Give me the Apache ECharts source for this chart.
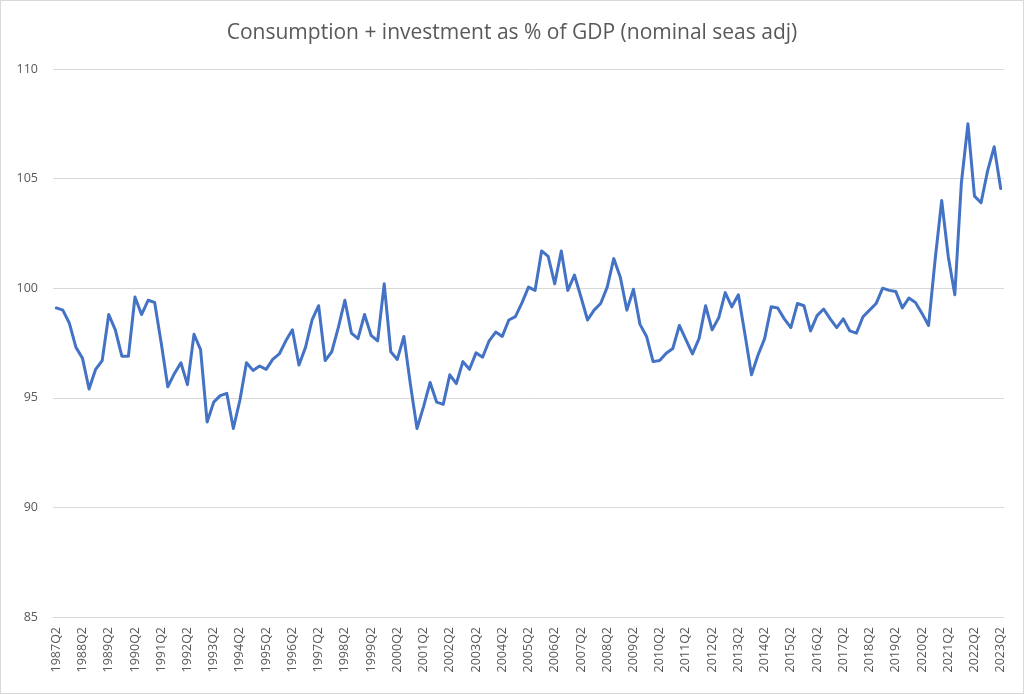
<!DOCTYPE html>
<html>
<head>
<meta charset="utf-8">
<script src="https://cdn.jsdelivr.net/npm/echarts@6/dist/echarts.min.js"></script>
<style>
html,body{margin:0;padding:0;background:#fff;}
#chart{width:1024px;height:694px;box-sizing:border-box;border:1px solid #d9d9d9;}
</style>
</head>
<body>
<div id="chart"></div>
<script>
// Quarterly categories 1987Q2 .. 2023Q2
const startYear = 1987, startQuarter = 2, endYear = 2023, endQuarter = 2;
const categories = [];
for (let y = startYear; y <= endYear; y++) {
  for (let q = 1; q <= 4; q++) {
    if (y === startYear && q < startQuarter) continue;
    if (y === endYear && q > endQuarter) continue;
    categories.push(y + 'Q' + q);
  }
}

const values = [
  99.1, 99.0, 98.4, 97.3, 96.8, 95.4, 96.3, 96.7, 98.8, 98.1,
  96.9, 96.9, 99.6, 98.8, 99.45, 99.35, 97.5, 95.5, 96.1, 96.6,
  95.6, 97.9, 97.2, 93.9, 94.8, 95.1, 95.2, 93.6, 94.9, 96.6,
  96.25, 96.45, 96.3, 96.75, 97.0, 97.6, 98.1, 96.5, 97.3, 98.55,
  99.2, 96.7, 97.1, 98.2, 99.45, 97.95, 97.7, 98.8, 97.85, 97.6,
  100.2, 97.1, 96.75, 97.8, 95.6, 93.6, 94.6, 95.7, 94.8, 94.7,
  96.05, 95.65, 96.65, 96.3, 97.05, 96.85, 97.6, 98.0, 97.8, 98.55,
  98.7, 99.33, 100.05, 99.9, 101.7, 101.45, 100.2, 101.7, 99.9, 100.6,
  99.6, 98.55, 99.0, 99.3, 100.05, 101.35, 100.5, 99.0, 99.95, 98.35,
  97.8, 96.65, 96.7, 97.03, 97.25, 98.3, 97.65, 97.0, 97.7, 99.2,
  98.1, 98.65, 99.8, 99.15, 99.7, 97.9, 96.05, 96.95, 97.7, 99.15,
  99.1, 98.6, 98.2, 99.3, 99.2, 98.05, 98.75, 99.05, 98.6, 98.2,
  98.6, 98.05, 97.95, 98.7, 99.0, 99.3, 100.0, 99.9, 99.85, 99.1,
  99.55, 99.35, 98.85, 98.3, 101.3, 104.0, 101.45, 99.7, 104.8, 107.5,
  104.2, 103.9, 105.35, 106.45, 104.55
];

const titleText = 'Consumption + investment as % of GDP (nominal seas adj)';

const chart = echarts.init(document.getElementById('chart'));
chart.setOption({
  animation: false,
  title: {
    text: titleText,
    left: 'center',
    top: 17,
    textStyle: { fontFamily: 'Open Sans', fontSize: 21, fontWeight: 'normal', color: '#595959' }
  },
  grid: { left: 52, right: 19, top: 68, bottom: 76 },
  xAxis: {
    type: 'category',
    data: categories,
    boundaryGap: true,
    axisLine: { show: true, lineStyle: { color: '#d9d9d9', width: 1 } },
    axisTick: { show: false },
    axisLabel: {
      interval: 3,
      rotate: 90,
      margin: 10,
      color: '#595959',
      fontFamily: 'Open Sans',
      fontSize: 12.5
    },
    splitLine: { show: false }
  },
  yAxis: {
    type: 'value',
    min: 85,
    max: 110,
    interval: 5,
    axisLine: { show: false },
    axisTick: { show: false },
    axisLabel: { color: '#595959', fontFamily: 'Open Sans', fontSize: 12.5, margin: 15 },
    splitLine: { lineStyle: { color: '#d9d9d9', width: 1 } }
  },
  series: [{
    type: 'line',
    data: values,
    showSymbol: false,
    smooth: false,
    lineStyle: { color: '#4472C4', width: 3, join: 'round', cap: 'round' },
    itemStyle: { color: '#4472C4' }
  }]
});
</script>
</body>
</html>
